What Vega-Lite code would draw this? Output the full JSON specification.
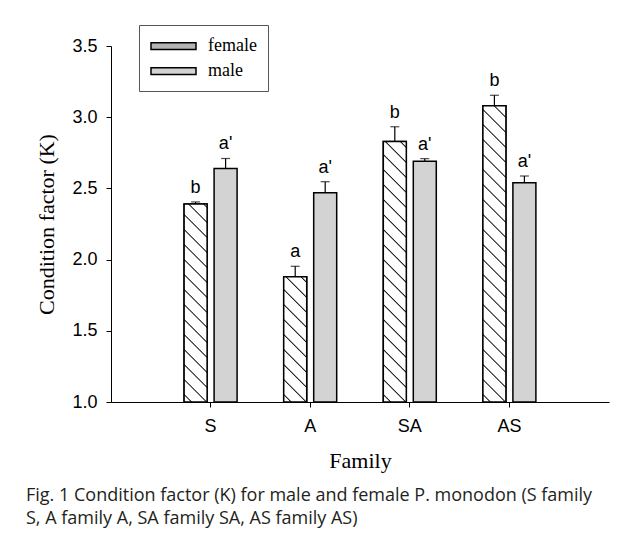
{
  "$schema": "https://vega.github.io/schema/vega-lite/v6.json",
  "width": 498,
  "height": 356,
  "autosize": {"type": "none"},
  "padding": {"left": 111, "top": 46, "right": 18, "bottom": 136},
  "background": "white",
  "config": {"view": {"stroke": null}, "font": "Liberation Sans", "legend": {"strokeWidth": 1, "symbolStrokeColor": "black", "symbolStrokeWidth": 1.5}},
  "title": {
    "text": ["Fig. 1  Condition factor (K) for male and female P. monodon (S family", "S, A family A, SA family SA, AS family AS)"],
    "orient": "bottom",
    "anchor": "start",
    "frame": "group",
    "dx": -85,
    "offset": 16,
    "font": "Open Sans",
    "fontSize": 18,
    "fontWeight": "normal",
    "color": "#231f20",
    "lineHeight": 23
  },
  "data": {
    "values": [
      {"family": "S", "sex": "female", "k": 2.39, "hi": 2.405, "letter": "b"},
      {"family": "S", "sex": "male", "k": 2.64, "hi": 2.71, "letter": "a'"},
      {"family": "A", "sex": "female", "k": 1.88, "hi": 1.953, "letter": "a"},
      {"family": "A", "sex": "male", "k": 2.47, "hi": 2.547, "letter": "a'"},
      {"family": "SA", "sex": "female", "k": 2.83, "hi": 2.933, "letter": "b"},
      {"family": "SA", "sex": "male", "k": 2.69, "hi": 2.709, "letter": "a'"},
      {"family": "AS", "sex": "female", "k": 3.08, "hi": 3.154, "letter": "b"},
      {"family": "AS", "sex": "male", "k": 2.54, "hi": 2.587, "letter": "a'"}
    ]
  },
  "encoding": {
    "x": {
      "field": "family",
      "type": "nominal",
      "sort": ["S", "A", "SA", "AS"],
      "scale": {"paddingInner": 0.468, "paddingOuter": 0.734},
      "axis": {
        "title": "Family",
        "titleFont": "Liberation Serif",
        "titleFontSize": 22,
        "titleFontWeight": "normal",
        "titleColor": "black",
        "titleY": 65,
        "titleBaseline": "alphabetic",
        "labelAngle": 0,
        "labelFont": "Liberation Sans",
        "labelFontSize": 18,
        "labelColor": "black",
        "labelPadding": 10,
        "tickSize": 5,
        "tickColor": "black",
        "domainColor": "black",
        "grid": false
      }
    },
    "xOffset": {
      "field": "sex",
      "type": "nominal",
      "sort": ["female", "male"],
      "scale": {"paddingInner": 0.233, "paddingOuter": 0}
    },
    "y": {
      "field": "k",
      "type": "quantitative",
      "stack": null,
      "title": "Condition factor (K)",
      "scale": {"domain": [1, 3.5], "nice": false, "zero": false},
      "axis": {
        "title": "Condition factor (K)",
        "titleFont": "Liberation Serif",
        "titleFontSize": 22,
        "titleFontWeight": "normal",
        "titleColor": "black",
        "titleX": -58,
        "titleBaseline": "alphabetic",
        "tickCount": 6,
        "format": ".1f",
        "labelFont": "Liberation Sans",
        "labelFontSize": 18,
        "labelColor": "black",
        "labelPadding": 9,
        "tickSize": 5,
        "tickColor": "black",
        "domainColor": "black",
        "grid": false
      }
    }
  },
  "layer": [
    {
      "mark": {"type": "bar", "stroke": "black", "strokeWidth": 1.5},
      "encoding": {
        "fill": {
          "field": "sex",
          "type": "nominal",
          "sort": ["female", "male"],
          "scale": {"range": ["#b4b4b4", "#d3d3d3"]},
          "legend": {
            "title": null,
            "orient": "none",
            "legendX": 28,
            "legendY": -21,
            "padding": 11,
            "strokeColor": "#555555",
            "fillColor": "white",
            "labelFont": "Liberation Serif",
            "labelFontSize": 18,
            "labelColor": "black",
            "labelOffset": 38,
            "symbolType": "M-1,-0.375H4V0.375H-1Z",
            "symbolSize": 324,
            "symbolStrokeColor": "black",
            "symbolStrokeWidth": 1.5,
            "rowPadding": 6
          }
        }
      }
    },
    {
      "transform": [{"filter": "datum.family === 'S' && datum.sex === 'female'"}],
      "mark": {"type": "bar", "stroke": "black", "strokeWidth": 1.5, "fill": {"gradient": "linear", "x1": 1, "y1": 0, "x2": 0.87203, "y2": 1.10133, "stops": [
        {"offset": 0.0097, "color": "#fff"}, {"offset": 0.0156, "color": "#000"}, {"offset": 0.0215, "color": "#fff"},
        {"offset": 0.0776, "color": "#fff"}, {"offset": 0.0835, "color": "#000"}, {"offset": 0.0893, "color": "#fff"},
        {"offset": 0.1455, "color": "#fff"}, {"offset": 0.1514, "color": "#000"}, {"offset": 0.1572, "color": "#fff"},
        {"offset": 0.2134, "color": "#fff"}, {"offset": 0.2193, "color": "#000"}, {"offset": 0.2251, "color": "#fff"},
        {"offset": 0.2813, "color": "#fff"}, {"offset": 0.2871, "color": "#000"}, {"offset": 0.2930, "color": "#fff"},
        {"offset": 0.3491, "color": "#fff"}, {"offset": 0.3550, "color": "#000"}, {"offset": 0.3609, "color": "#fff"},
        {"offset": 0.4170, "color": "#fff"}, {"offset": 0.4229, "color": "#000"}, {"offset": 0.4288, "color": "#fff"},
        {"offset": 0.4849, "color": "#fff"}, {"offset": 0.4908, "color": "#000"}, {"offset": 0.4967, "color": "#fff"},
        {"offset": 0.5528, "color": "#fff"}, {"offset": 0.5587, "color": "#000"}, {"offset": 0.5646, "color": "#fff"},
        {"offset": 0.6207, "color": "#fff"}, {"offset": 0.6266, "color": "#000"}, {"offset": 0.6325, "color": "#fff"},
        {"offset": 0.6886, "color": "#fff"}, {"offset": 0.6945, "color": "#000"}, {"offset": 0.7004, "color": "#fff"},
        {"offset": 0.7565, "color": "#fff"}, {"offset": 0.7624, "color": "#000"}, {"offset": 0.7683, "color": "#fff"},
        {"offset": 0.8244, "color": "#fff"}, {"offset": 0.8303, "color": "#000"}, {"offset": 0.8362, "color": "#fff"},
        {"offset": 0.8923, "color": "#fff"}, {"offset": 0.8982, "color": "#000"}, {"offset": 0.9040, "color": "#fff"},
        {"offset": 0.9602, "color": "#fff"}, {"offset": 0.9661, "color": "#000"}, {"offset": 0.9719, "color": "#fff"}
      ]}},
      "encoding": {}
    },
    {
      "transform": [{"filter": "datum.family === 'A' && datum.sex === 'female'"}],
      "mark": {"type": "bar", "stroke": "black", "strokeWidth": 1.5, "fill": {"gradient": "linear", "x1": 1, "y1": 0, "x2": 0.78985, "y2": 1.14497, "stops": [
        {"offset": 0.0304, "color": "#fff"}, {"offset": 0.0392, "color": "#000"}, {"offset": 0.0479, "color": "#fff"},
        {"offset": 0.1316, "color": "#fff"}, {"offset": 0.1403, "color": "#000"}, {"offset": 0.1491, "color": "#fff"},
        {"offset": 0.2327, "color": "#fff"}, {"offset": 0.2415, "color": "#000"}, {"offset": 0.2502, "color": "#fff"},
        {"offset": 0.3338, "color": "#fff"}, {"offset": 0.3426, "color": "#000"}, {"offset": 0.3514, "color": "#fff"},
        {"offset": 0.4350, "color": "#fff"}, {"offset": 0.4437, "color": "#000"}, {"offset": 0.4525, "color": "#fff"},
        {"offset": 0.5361, "color": "#fff"}, {"offset": 0.5449, "color": "#000"}, {"offset": 0.5536, "color": "#fff"},
        {"offset": 0.6372, "color": "#fff"}, {"offset": 0.6460, "color": "#000"}, {"offset": 0.6548, "color": "#fff"},
        {"offset": 0.7384, "color": "#fff"}, {"offset": 0.7472, "color": "#000"}, {"offset": 0.7559, "color": "#fff"},
        {"offset": 0.8395, "color": "#fff"}, {"offset": 0.8483, "color": "#000"}, {"offset": 0.8570, "color": "#fff"},
        {"offset": 0.9407, "color": "#fff"}, {"offset": 0.9494, "color": "#000"}, {"offset": 0.9582, "color": "#fff"}
      ]}},
      "encoding": {}
    },
    {
      "transform": [{"filter": "datum.family === 'SA' && datum.sex === 'female'"}],
      "mark": {"type": "bar", "stroke": "black", "strokeWidth": 1.5, "fill": {"gradient": "linear", "x1": 1, "y1": 0, "x2": 0.90469, "y2": 1.07985, "stops": [
        {"offset": 0.0169, "color": "#fff"}, {"offset": 0.0215, "color": "#000"}, {"offset": 0.0261, "color": "#fff"},
        {"offset": 0.0698, "color": "#fff"}, {"offset": 0.0744, "color": "#000"}, {"offset": 0.0790, "color": "#fff"},
        {"offset": 0.1227, "color": "#fff"}, {"offset": 0.1273, "color": "#000"}, {"offset": 0.1318, "color": "#fff"},
        {"offset": 0.1756, "color": "#fff"}, {"offset": 0.1802, "color": "#000"}, {"offset": 0.1847, "color": "#fff"},
        {"offset": 0.2285, "color": "#fff"}, {"offset": 0.2331, "color": "#000"}, {"offset": 0.2376, "color": "#fff"},
        {"offset": 0.2814, "color": "#fff"}, {"offset": 0.2859, "color": "#000"}, {"offset": 0.2905, "color": "#fff"},
        {"offset": 0.3343, "color": "#fff"}, {"offset": 0.3388, "color": "#000"}, {"offset": 0.3434, "color": "#fff"},
        {"offset": 0.3871, "color": "#fff"}, {"offset": 0.3917, "color": "#000"}, {"offset": 0.3963, "color": "#fff"},
        {"offset": 0.4400, "color": "#fff"}, {"offset": 0.4446, "color": "#000"}, {"offset": 0.4492, "color": "#fff"},
        {"offset": 0.4929, "color": "#fff"}, {"offset": 0.4975, "color": "#000"}, {"offset": 0.5021, "color": "#fff"},
        {"offset": 0.5458, "color": "#fff"}, {"offset": 0.5504, "color": "#000"}, {"offset": 0.5550, "color": "#fff"},
        {"offset": 0.5987, "color": "#fff"}, {"offset": 0.6033, "color": "#000"}, {"offset": 0.6079, "color": "#fff"},
        {"offset": 0.6516, "color": "#fff"}, {"offset": 0.6562, "color": "#000"}, {"offset": 0.6608, "color": "#fff"},
        {"offset": 0.7045, "color": "#fff"}, {"offset": 0.7091, "color": "#000"}, {"offset": 0.7137, "color": "#fff"},
        {"offset": 0.7574, "color": "#fff"}, {"offset": 0.7620, "color": "#000"}, {"offset": 0.7666, "color": "#fff"},
        {"offset": 0.8103, "color": "#fff"}, {"offset": 0.8149, "color": "#000"}, {"offset": 0.8195, "color": "#fff"},
        {"offset": 0.8632, "color": "#fff"}, {"offset": 0.8678, "color": "#000"}, {"offset": 0.8723, "color": "#fff"},
        {"offset": 0.9161, "color": "#fff"}, {"offset": 0.9207, "color": "#000"}, {"offset": 0.9252, "color": "#fff"},
        {"offset": 0.9690, "color": "#fff"}, {"offset": 0.9736, "color": "#000"}, {"offset": 0.9781, "color": "#fff"}
      ]}},
      "encoding": {}
    },
    {
      "transform": [{"filter": "datum.family === 'AS' && datum.sex === 'female'"}],
      "mark": {"type": "bar", "stroke": "black", "strokeWidth": 1.5, "fill": {"gradient": "linear", "x1": 1, "y1": 0, "x2": 0.91682, "y2": 1.07119, "stops": [
        {"offset": 0.0325, "color": "#fff"}, {"offset": 0.0366, "color": "#000"}, {"offset": 0.0407, "color": "#fff"},
        {"offset": 0.0795, "color": "#fff"}, {"offset": 0.0836, "color": "#000"}, {"offset": 0.0877, "color": "#fff"},
        {"offset": 0.1265, "color": "#fff"}, {"offset": 0.1306, "color": "#000"}, {"offset": 0.1347, "color": "#fff"},
        {"offset": 0.1735, "color": "#fff"}, {"offset": 0.1776, "color": "#000"}, {"offset": 0.1817, "color": "#fff"},
        {"offset": 0.2205, "color": "#fff"}, {"offset": 0.2246, "color": "#000"}, {"offset": 0.2287, "color": "#fff"},
        {"offset": 0.2675, "color": "#fff"}, {"offset": 0.2716, "color": "#000"}, {"offset": 0.2757, "color": "#fff"},
        {"offset": 0.3145, "color": "#fff"}, {"offset": 0.3186, "color": "#000"}, {"offset": 0.3227, "color": "#fff"},
        {"offset": 0.3615, "color": "#fff"}, {"offset": 0.3656, "color": "#000"}, {"offset": 0.3697, "color": "#fff"},
        {"offset": 0.4085, "color": "#fff"}, {"offset": 0.4126, "color": "#000"}, {"offset": 0.4167, "color": "#fff"},
        {"offset": 0.4555, "color": "#fff"}, {"offset": 0.4596, "color": "#000"}, {"offset": 0.4637, "color": "#fff"},
        {"offset": 0.5025, "color": "#fff"}, {"offset": 0.5066, "color": "#000"}, {"offset": 0.5107, "color": "#fff"},
        {"offset": 0.5495, "color": "#fff"}, {"offset": 0.5536, "color": "#000"}, {"offset": 0.5577, "color": "#fff"},
        {"offset": 0.5965, "color": "#fff"}, {"offset": 0.6006, "color": "#000"}, {"offset": 0.6047, "color": "#fff"},
        {"offset": 0.6435, "color": "#fff"}, {"offset": 0.6475, "color": "#000"}, {"offset": 0.6516, "color": "#fff"},
        {"offset": 0.6905, "color": "#fff"}, {"offset": 0.6945, "color": "#000"}, {"offset": 0.6986, "color": "#fff"},
        {"offset": 0.7375, "color": "#fff"}, {"offset": 0.7415, "color": "#000"}, {"offset": 0.7456, "color": "#fff"},
        {"offset": 0.7845, "color": "#fff"}, {"offset": 0.7885, "color": "#000"}, {"offset": 0.7926, "color": "#fff"},
        {"offset": 0.8314, "color": "#fff"}, {"offset": 0.8355, "color": "#000"}, {"offset": 0.8396, "color": "#fff"},
        {"offset": 0.8784, "color": "#fff"}, {"offset": 0.8825, "color": "#000"}, {"offset": 0.8866, "color": "#fff"},
        {"offset": 0.9254, "color": "#fff"}, {"offset": 0.9295, "color": "#000"}, {"offset": 0.9336, "color": "#fff"},
        {"offset": 0.9724, "color": "#fff"}, {"offset": 0.9765, "color": "#000"}, {"offset": 0.9806, "color": "#fff"}
      ]}},
      "encoding": {}
    },
    {
      "mark": {"type": "rule", "color": "black", "strokeWidth": 1.2},
      "encoding": {
        "y2": {"field": "hi"}
      }
    },
    {
      "mark": {"type": "tick", "color": "black", "size": 9, "thickness": 1.2},
      "encoding": {
        "y": {"field": "hi", "type": "quantitative", "title": "Condition factor (K)"}
      }
    },
    {
      "mark": {"type": "text", "dy": -9, "baseline": "alphabetic", "fontSize": 18, "font": "Liberation Sans", "color": "black"},
      "encoding": {
        "y": {"field": "hi", "type": "quantitative", "title": "Condition factor (K)"},
        "text": {"field": "letter"}
      }
    }
  ]
}
